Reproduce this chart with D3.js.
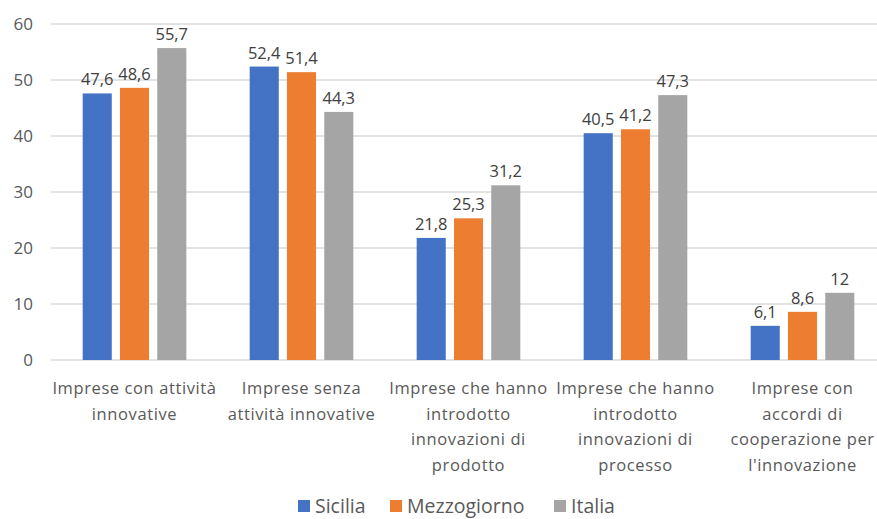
<!DOCTYPE html>
<html>
<head>
<meta charset="utf-8">
<script src="https://cdn.jsdelivr.net/npm/d3@7"></script>
<style>
  body{margin:0;background:#fff}
  text{font-family:"Open Sans","Noto Sans",sans-serif}
</style>
</head>
<body>
<div id="chart"></div>
<script>
'use strict'
const categories = [
  ["Imprese con attività", "innovative"],
  ["Imprese senza", "attività innovative"],
  ["Imprese che hanno", "introdotto", "innovazioni di", "prodotto"],
  ["Imprese che hanno", "introdotto", "innovazioni di", "processo"],
  ["Imprese con", "accordi di", "cooperazione per", "l'innovazione"]
]
const seriesNames = ["Sicilia", "Mezzogiorno", "Italia"]
const sicilia = [47.6, 52.4, 21.8, 40.5, 6.1]
const mezzogiorno = [48.6, 51.4, 25.3, 41.2, 8.6]
const italia = [55.7, 44.3, 31.2, 47.3, 12]
const yTicks = [0, 10, 20, 30, 40, 50, 60]
const colors = ["#4472C4", "#ED7D31", "#A5A5A5"]

const width = 877, height = 519
const svg = d3.select("#chart").append("svg")
  .attr("width", width).attr("height", height)

const series = [sicilia, mezzogiorno, italia]
const x0 = d3.scaleBand().domain(d3.range(categories.length)).range([51, 886])
const x1 = d3.scaleBand().domain(seriesNames).range([0, x0.bandwidth()])
  .paddingInner(0.22).paddingOuter(0.85)
const y = d3.scaleLinear().domain([0, 60]).range([360, 24])

// gridlines
svg.append("g")
  .selectAll("line")
  .data(yTicks)
  .enter()
    .append("line")
    .attr("x1", 51).attr("x2", 877)
    .attr("y1", d => y(d)).attr("y2", d => y(d))
    .attr("stroke", "#d9d9d9").attr("stroke-width", 1.3)

// y labels
svg.append("g")
  .selectAll("text")
  .data(yTicks)
  .enter()
    .append("text")
    .attr("x", 33).attr("y", d => y(d))
    .attr("dy", "0.36em")
    .attr("text-anchor", "end")
    .attr("font-size", 17)
    .attr("fill", "#595959")
    .text(d => d)

const fmt = v => String(v).replace(".", ",")

seriesNames.forEach((name, s) => {
  const g = svg.append("g")
  g.selectAll("rect")
    .data(series[s])
    .enter()
      .append("rect")
      .attr("x", (d, i) => x0(i) + x1(name))
      .attr("y", d => y(d))
      .attr("width", x1.bandwidth())
      .attr("height", d => y(0) - y(d))
      .attr("fill", colors[s])
  g.selectAll("text")
    .data(series[s])
    .enter()
      .append("text")
      .attr("x", (d, i) => x0(i) + x1(name) + x1.bandwidth() / 2)
      .attr("y", d => y(d) - 8)
      .attr("text-anchor", "middle")
      .attr("font-size", 16.5)
      .attr("fill", "#404040")
      .text(d => fmt(d))
})

// category labels
categories.forEach((lines, i) => {
  const t = svg.append("text")
    .attr("x", x0(i) + x0.bandwidth() / 2)
    .attr("y", 394)
    .attr("text-anchor", "middle")
    .attr("font-size", 16.5)
    .attr("letter-spacing", 0.6)
    .attr("fill", "#595959")
  lines.forEach((l, k) => {
    t.append("tspan")
      .attr("x", x0(i) + x0.bandwidth() / 2)
      .attr("dy", k === 0 ? 0 : 25.5)
      .text(l)
  })
})

// legend
const legendX = [298, 390, 554]
const legend = svg.append("g")
seriesNames.forEach((name, s) => {
  legend.append("rect")
    .attr("x", legendX[s]).attr("y", 500)
    .attr("width", 12).attr("height", 12)
    .attr("fill", colors[s])
  legend.append("text")
    .attr("x", legendX[s] + 17).attr("y", 513)
    .attr("font-size", 19.5)
    .attr("fill", "#595959")
    .text(name)
})
</script>
</body>
</html>
